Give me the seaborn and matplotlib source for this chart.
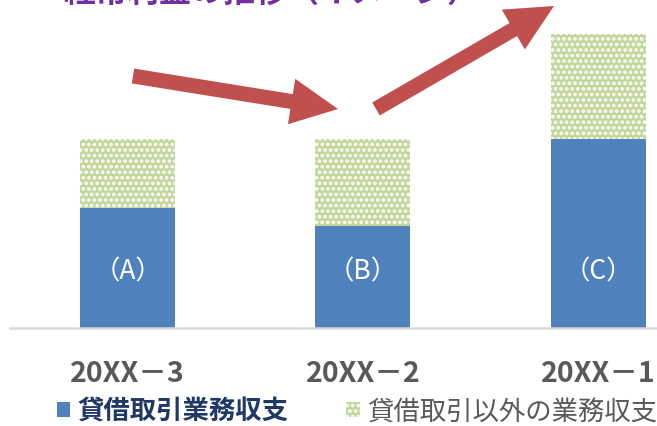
import matplotlib
matplotlib.use("Agg")
import matplotlib.pyplot as plt
import seaborn as sns
import pandas as pd
from matplotlib.patches import Patch, FancyArrow
from matplotlib.transforms import IdentityTransform

# ---- data ----
categories = ["20XX－3", "20XX－2", "20XX－1"]
lending = [120, 102, 189]          # 貸借取引業務収支
other = [69, 87, 105]              # 貸借取引以外の業務収支
bar_labels = ["（A）", "（B）", "（C）"]
series_names = ["貸借取引業務収支", "貸借取引以外の業務収支"]
title = "経常利益の推移（イメージ）"

totals = [a + b for a, b in zip(lending, other)]
df = pd.DataFrame({"cat": categories, "lending": lending, "total": totals})

BLUE = "#4F81BD"
GREEN = "#C3D69B"
RED = "#C0504D"
GRAY = "#595959"
NAVY = "#1F3864"
PURPLE = "#7030A0"

sns.set_theme(style="white")
plt.rcParams["font.family"] = ["Noto Sans CJK JP", "DejaVu Sans"]
plt.rcParams["hatch.linewidth"] = 1.8

W, H = 657, 427
fig = plt.figure(figsize=(W / 100, H / 100), dpi=100)
ax = fig.add_axes([10 / W, (H - 329) / H, (W - 10) / W, 329 / H])

sns.barplot(data=df, x="cat", y="total", color=GREEN, saturation=1, width=0.404,
            edgecolor="white", linewidth=0, hatch="...", ax=ax)
sns.barplot(data=df, x="cat", y="lending", color=BLUE, saturation=1, width=0.404,
            linewidth=0, ax=ax)

ax.set_xlim(-0.5, 2.25)
ax.set_ylim(0, 329)
ax.set_xlabel("")
ax.set_ylabel("")
ax.set_yticks([])
for s in ["top", "right", "left"]:
    ax.spines[s].set_visible(False)
ax.spines["bottom"].set_color("#D9D9D9")
ax.spines["bottom"].set_linewidth(1.8)
ax.tick_params(axis="x", length=0, pad=22)
for t in ax.get_xticklabels():
    t.set_fontsize(20.5)
    t.set_fontweight("bold")
    t.set_color(GRAY)

for i, lab in enumerate(bar_labels):
    ax.text(i, 57, lab, ha="center", va="center", color="white", fontsize=19)

# title (partly cut off at top, as in the reference)
fig.text(63 / W, (H - 2) / H, title, ha="left", va="baseline",
         fontsize=23, fontweight="bold", color=PURPLE)

# arrows (decoration), in pixel coordinates
def arrow(x0, y0, x1, y1):
    a = FancyArrow(x0, H - y0, x1 - x0, -(y1 - y0), width=15, head_width=46,
                   head_length=47, length_includes_head=True, color=RED,
                   linewidth=0, transform=IdentityTransform())
    fig.patches.append(a)

arrow(133, 77, 338, 110)
arrow(376, 110, 554, 7)

# legend
handles = [Patch(facecolor=BLUE, edgecolor=BLUE, linewidth=0),
           Patch(facecolor=GREEN, edgecolor="white", linewidth=0, hatch="...")]
leg = fig.legend(handles, series_names, ncol=2, loc="center",
                 bbox_to_anchor=(357 / W, (H - 412) / H), frameon=False,
                 fontsize=19, handlelength=0.5, handleheight=0.5,
                 handletextpad=0.27, columnspacing=2.2, borderpad=0)
texts = leg.get_texts()
texts[0].set_fontweight("bold")
texts[0].set_color(NAVY)
texts[1].set_color(GRAY)

fig.savefig("out.png", dpi=100)
